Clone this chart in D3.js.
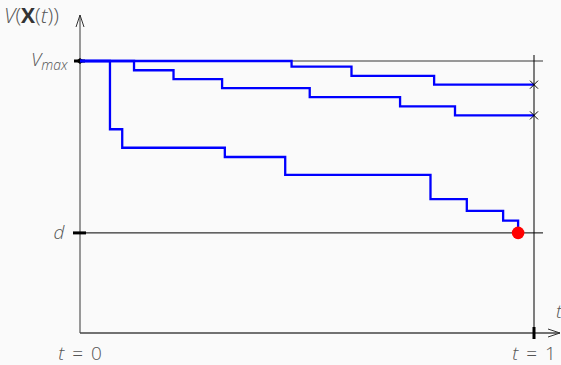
<!DOCTYPE html>
<html>
<head>
<meta charset="utf-8">
<script src="https://cdn.jsdelivr.net/npm/d3@7"></script>
<style>
  body { margin: 0; background: #fafafa; }
  svg { display: block; }
  text { font-family: "Open Sans", "DejaVu Sans", sans-serif; fill: #555; font-weight: 300; }
</style>
</head>
<body>
<svg width="561" height="365"></svg>
<script>
// values: t in [0,1], V scaled so that Vmax = 100
var vMax = 100,
    dLevel = 36.8;

var path1 = [[0, 100], [0.466, 97.9], [0.598, 94.5], [0.780, 91.3], [1, 91.3]];
var path2 = [[0, 100], [0.119, 96.6], [0.206, 93.3], [0.313, 90], [0.506, 86.7], [0.705, 83.3], [0.826, 80], [1, 80]];
var path3 = [[0, 100], [0.066, 74.9], [0.093, 68.1], [0.319, 64.7], [0.452, 58.1], [0.772, 49.2], [0.852, 44.9], [0.932, 41.3], [0.965, dLevel]];

var tickLabels = ["t = 0", "t = 1"];

var svg = d3.select("svg");

var x = d3.scaleLinear().domain([0, 1]).range([80, 534]);
var y = d3.scaleLinear().domain([0, vMax]).range([333, 61]);

var line = d3.line()
    .x(function(d) { return x(d[0]); })
    .y(function(d) { return y(d[1]); })
    .curve(d3.curveStepAfter);

// guide lines
svg.append("line")
    .attr("x1", x(0)).attr("x2", x(1) + 9)
    .attr("y1", y(vMax)).attr("y2", y(vMax))
    .attr("stroke", "#777").attr("stroke-width", 1.5);

svg.append("line")
    .attr("x1", x(0)).attr("x2", x(1) + 9)
    .attr("y1", y(dLevel)).attr("y2", y(dLevel))
    .attr("stroke", "#000").attr("stroke-width", 1);

svg.append("line")
    .attr("x1", x(1)).attr("x2", x(1))
    .attr("y1", y(vMax) - 6).attr("y2", y(0))
    .attr("stroke", "#000").attr("stroke-width", 1);

// axes
svg.append("line")
    .attr("x1", x(0)).attr("x2", x(0))
    .attr("y1", y(0)).attr("y2", 15)
    .attr("stroke", "#777").attr("stroke-width", 1.5);
svg.append("path")
    .attr("d", "M" + (x(0) - 4) + "," + 27 + "L" + x(0) + "," + 15 + "L" + (x(0) + 4) + "," + 27)
    .attr("fill", "none").attr("stroke", "#333").attr("stroke-width", 1);

svg.append("line")
    .attr("x1", x(0)).attr("x2", 560)
    .attr("y1", y(0)).attr("y2", y(0))
    .attr("stroke", "#444").attr("stroke-width", 1.5);
svg.append("path")
    .attr("d", "M" + 548 + "," + (y(0) - 4) + "L" + 560 + "," + y(0) + "L" + 548 + "," + (y(0) + 4))
    .attr("fill", "none").attr("stroke", "#333").attr("stroke-width", 1);

// ticks
svg.append("line")
    .attr("x1", x(0) - 7).attr("x2", x(0) + 6)
    .attr("y1", y(dLevel)).attr("y2", y(dLevel))
    .attr("stroke", "#000").attr("stroke-width", 3);
svg.append("line")
    .attr("x1", x(0) - 6).attr("x2", x(0) + 5)
    .attr("y1", y(vMax)).attr("y2", y(vMax))
    .attr("stroke", "#000").attr("stroke-width", 3);
svg.append("path")
    .attr("d", "M" + (x(0) - 4) + "," + y(vMax) + "L" + x(0) + "," + (y(vMax) - 3) + "L" + (x(0) + 4) + "," + y(vMax) + "L" + x(0) + "," + (y(vMax) + 3) + "Z")
    .attr("fill", "#000");
svg.append("line")
    .attr("x1", x(1)).attr("x2", x(1))
    .attr("y1", y(0) - 6).attr("y2", y(0) + 6)
    .attr("stroke", "#000").attr("stroke-width", 3);

// trajectories
[path1, path2, path3].forEach(function(p) {
  svg.append("path")
      .attr("d", line(p))
      .attr("fill", "none")
      .attr("stroke", "#0000ff")
      .attr("stroke-width", 2.3);
});

// end markers
[path1, path2].forEach(function(p) {
  var e = p[p.length - 1], cx = x(e[0]), cy = y(e[1]);
  svg.append("path")
      .attr("d", "M" + (cx - 4) + "," + (cy - 4) + "L" + (cx + 4) + "," + (cy + 4) +
                 "M" + (cx - 4) + "," + (cy + 4) + "L" + (cx + 4) + "," + (cy - 4))
      .attr("stroke", "#000").attr("stroke-width", 1);
});

var last = path3[path3.length - 1];
svg.append("circle")
    .attr("cx", x(last[0])).attr("cy", y(last[1]))
    .attr("r", 6.3)
    .attr("fill", "#ff0000");

// labels
var yl = svg.append("text").attr("x", 4).attr("y", 23).style("font-size", "21px");
yl.append("tspan").style("font-style", "italic").text("V");
yl.append("tspan").text("(");
yl.append("tspan").style("font-weight", "bold").style("fill", "#333").text("X");
yl.append("tspan").text("(");
yl.append("tspan").style("font-style", "italic").text("t");
yl.append("tspan").text("))");

var vm = svg.append("text").attr("x", 31).attr("y", 66).style("font-size", "19px").style("font-style", "italic");
vm.append("tspan").text("V");
vm.append("tspan").attr("dy", 4).style("font-size", "14px").text("max");

svg.append("text")
    .attr("x", 59).attr("y", y(dLevel) + 6)
    .attr("text-anchor", "middle")
    .style("font-size", "19px").style("font-style", "italic")
    .text("d");

tickLabels.forEach(function(lbl, i) {
  var t = svg.append("text")
      .attr("x", x(i)).attr("y", 360)
      .attr("text-anchor", "middle")
      .style("font-size", "19px")
      .style("word-spacing", "3px");
  t.append("tspan").style("font-style", "italic").text("t");
  t.append("tspan").text(lbl.slice(1));
});

svg.append("text")
    .attr("x", 556).attr("y", 318)
    .style("font-size", "19px").style("font-style", "italic")
    .text("t");
</script>
</body>
</html>
